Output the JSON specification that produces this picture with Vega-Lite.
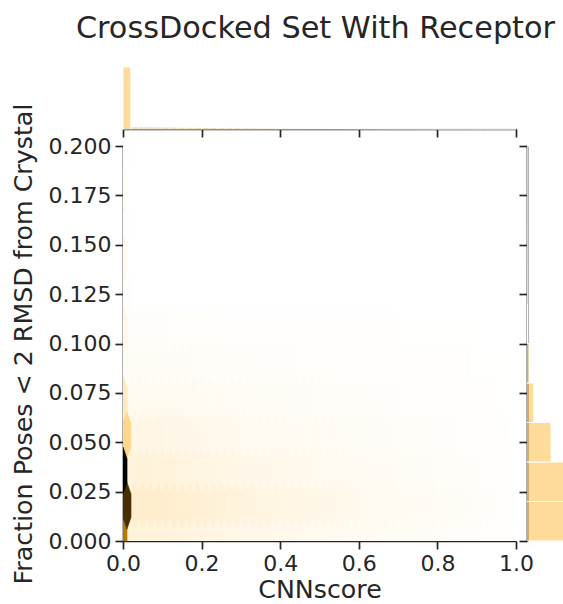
{
  "$schema": "https://vega.github.io/schema/vega-lite/v6.json",
  "padding": {"left": 11, "top": 13, "right": 0, "bottom": 0},
  "title": {"text": "CrossDocked Set With Receptor", "fontSize": 30.3, "font": "DejaVu Sans", "fontWeight": "normal", "color": "#262626", "anchor": "end", "dx": -8, "offset": 6},
  "datasets": {
    "hex": [
      {"x":0,"y":0,"n":640},{"x":0.02,"y":0,"n":67},{"x":0.04,"y":0,"n":70},{"x":0.06,"y":0,"n":70},{"x":0.08,"y":0,"n":69},{"x":0.1,"y":0,"n":67},{"x":0.12,"y":0,"n":65},{"x":0.14,"y":0,"n":63},{"x":0.16,"y":0,"n":61},{"x":0.18,"y":0,"n":59},{"x":0.2,"y":0,"n":57},{"x":0.22,"y":0,"n":55},{"x":0.24,"y":0,"n":53},{"x":0.26,"y":0,"n":50},{"x":0.28,"y":0,"n":48},{"x":0.3,"y":0,"n":46},{"x":0.32,"y":0,"n":44},{"x":0.34,"y":0,"n":42},{"x":0.36,"y":0,"n":41},{"x":0.38,"y":0,"n":39},{"x":0.4,"y":0,"n":38},{"x":0.42,"y":0,"n":36},{"x":0.44,"y":0,"n":35},{"x":0.46,"y":0,"n":34},{"x":0.48,"y":0,"n":32},{"x":0.5,"y":0,"n":31},{"x":0.52,"y":0,"n":29},{"x":0.54,"y":0,"n":28},{"x":0.56,"y":0,"n":27},{"x":0.58,"y":0,"n":25},{"x":0.6,"y":0,"n":24},{"x":0.62,"y":0,"n":23},{"x":0.64,"y":0,"n":22},{"x":0.66,"y":0,"n":21},{"x":0.68,"y":0,"n":20},{"x":0.7,"y":0,"n":19},{"x":0.72,"y":0,"n":18},{"x":0.74,"y":0,"n":17},{"x":0.76,"y":0,"n":16},{"x":0.78,"y":0,"n":15},{"x":0.8,"y":0,"n":14},{"x":0.82,"y":0,"n":13},{"x":0.84,"y":0,"n":12},{"x":0.86,"y":0,"n":11},{"x":0.88,"y":0,"n":10},{"x":0.9,"y":0,"n":9},{"x":0.92,"y":0,"n":8},{"x":0.94,"y":0,"n":6},{"x":0.96,"y":0,"n":5},{"x":0.98,"y":0,"n":3},{"x":1,"y":0,"n":1},
      {"x":0.01,"y":0.0179,"n":860},{"x":0.03,"y":0.0179,"n":98},{"x":0.05,"y":0.0179,"n":100},{"x":0.07,"y":0.0179,"n":99},{"x":0.09,"y":0.0179,"n":97},{"x":0.11,"y":0.0179,"n":95},{"x":0.13,"y":0.0179,"n":92},{"x":0.15,"y":0.0179,"n":89},{"x":0.17,"y":0.0179,"n":86},{"x":0.19,"y":0.0179,"n":83},{"x":0.21,"y":0.0179,"n":80},{"x":0.23,"y":0.0179,"n":77},{"x":0.25,"y":0.0179,"n":74},{"x":0.27,"y":0.0179,"n":71},{"x":0.29,"y":0.0179,"n":68},{"x":0.31,"y":0.0179,"n":65},{"x":0.33,"y":0.0179,"n":62},{"x":0.35,"y":0.0179,"n":59},{"x":0.37,"y":0.0179,"n":57},{"x":0.39,"y":0.0179,"n":55},{"x":0.41,"y":0.0179,"n":53},{"x":0.43,"y":0.0179,"n":51},{"x":0.45,"y":0.0179,"n":49},{"x":0.47,"y":0.0179,"n":47},{"x":0.49,"y":0.0179,"n":45},{"x":0.51,"y":0.0179,"n":43},{"x":0.53,"y":0.0179,"n":41},{"x":0.55,"y":0.0179,"n":39},{"x":0.57,"y":0.0179,"n":37},{"x":0.59,"y":0.0179,"n":35},{"x":0.61,"y":0.0179,"n":34},{"x":0.63,"y":0.0179,"n":32},{"x":0.65,"y":0.0179,"n":31},{"x":0.67,"y":0.0179,"n":29},{"x":0.69,"y":0.0179,"n":28},{"x":0.71,"y":0.0179,"n":26},{"x":0.73,"y":0.0179,"n":25},{"x":0.75,"y":0.0179,"n":23},{"x":0.77,"y":0.0179,"n":22},{"x":0.79,"y":0.0179,"n":21},{"x":0.81,"y":0.0179,"n":20},{"x":0.83,"y":0.0179,"n":18},{"x":0.85,"y":0.0179,"n":17},{"x":0.87,"y":0.0179,"n":15},{"x":0.89,"y":0.0179,"n":14},{"x":0.91,"y":0.0179,"n":12},{"x":0.93,"y":0.0179,"n":10},{"x":0.95,"y":0.0179,"n":8},{"x":0.97,"y":0.0179,"n":6},{"x":0.99,"y":0.0179,"n":3},
      {"x":0,"y":0.0357,"n":1000},{"x":0.02,"y":0.0357,"n":69},{"x":0.04,"y":0.0357,"n":72},{"x":0.06,"y":0.0357,"n":72},{"x":0.08,"y":0.0357,"n":71},{"x":0.1,"y":0.0357,"n":69},{"x":0.12,"y":0.0357,"n":67},{"x":0.14,"y":0.0357,"n":65},{"x":0.16,"y":0.0357,"n":63},{"x":0.18,"y":0.0357,"n":60},{"x":0.2,"y":0.0357,"n":58},{"x":0.22,"y":0.0357,"n":56},{"x":0.24,"y":0.0357,"n":54},{"x":0.26,"y":0.0357,"n":52},{"x":0.28,"y":0.0357,"n":50},{"x":0.3,"y":0.0357,"n":48},{"x":0.32,"y":0.0357,"n":45},{"x":0.34,"y":0.0357,"n":43},{"x":0.36,"y":0.0357,"n":42},{"x":0.38,"y":0.0357,"n":40},{"x":0.4,"y":0.0357,"n":39},{"x":0.42,"y":0.0357,"n":37},{"x":0.44,"y":0.0357,"n":36},{"x":0.46,"y":0.0357,"n":35},{"x":0.48,"y":0.0357,"n":33},{"x":0.5,"y":0.0357,"n":32},{"x":0.52,"y":0.0357,"n":30},{"x":0.54,"y":0.0357,"n":29},{"x":0.56,"y":0.0357,"n":27},{"x":0.58,"y":0.0357,"n":26},{"x":0.6,"y":0.0357,"n":25},{"x":0.62,"y":0.0357,"n":24},{"x":0.64,"y":0.0357,"n":23},{"x":0.66,"y":0.0357,"n":22},{"x":0.68,"y":0.0357,"n":21},{"x":0.7,"y":0.0357,"n":19},{"x":0.72,"y":0.0357,"n":18},{"x":0.74,"y":0.0357,"n":17},{"x":0.76,"y":0.0357,"n":16},{"x":0.78,"y":0.0357,"n":15},{"x":0.8,"y":0.0357,"n":14},{"x":0.82,"y":0.0357,"n":14},{"x":0.84,"y":0.0357,"n":13},{"x":0.86,"y":0.0357,"n":12},{"x":0.88,"y":0.0357,"n":10},{"x":0.9,"y":0.0357,"n":9},{"x":0.92,"y":0.0357,"n":8},{"x":0.94,"y":0.0357,"n":6},{"x":0.96,"y":0.0357,"n":5},{"x":0.98,"y":0.0357,"n":3},{"x":1,"y":0.0357,"n":1},
      {"x":0.01,"y":0.0536,"n":230},{"x":0.03,"y":0.0536,"n":49},{"x":0.05,"y":0.0536,"n":50},{"x":0.07,"y":0.0536,"n":50},{"x":0.09,"y":0.0536,"n":49},{"x":0.11,"y":0.0536,"n":47},{"x":0.13,"y":0.0536,"n":46},{"x":0.15,"y":0.0536,"n":44},{"x":0.17,"y":0.0536,"n":43},{"x":0.19,"y":0.0536,"n":41},{"x":0.21,"y":0.0536,"n":40},{"x":0.23,"y":0.0536,"n":38},{"x":0.25,"y":0.0536,"n":37},{"x":0.27,"y":0.0536,"n":35},{"x":0.29,"y":0.0536,"n":34},{"x":0.31,"y":0.0536,"n":32},{"x":0.33,"y":0.0536,"n":31},{"x":0.35,"y":0.0536,"n":30},{"x":0.37,"y":0.0536,"n":29},{"x":0.39,"y":0.0536,"n":28},{"x":0.41,"y":0.0536,"n":27},{"x":0.43,"y":0.0536,"n":26},{"x":0.45,"y":0.0536,"n":25},{"x":0.47,"y":0.0536,"n":24},{"x":0.49,"y":0.0536,"n":23},{"x":0.51,"y":0.0536,"n":22},{"x":0.53,"y":0.0536,"n":21},{"x":0.55,"y":0.0536,"n":20},{"x":0.57,"y":0.0536,"n":19},{"x":0.59,"y":0.0536,"n":18},{"x":0.61,"y":0.0536,"n":17},{"x":0.63,"y":0.0536,"n":16},{"x":0.65,"y":0.0536,"n":15},{"x":0.67,"y":0.0536,"n":15},{"x":0.69,"y":0.0536,"n":14},{"x":0.71,"y":0.0536,"n":13},{"x":0.73,"y":0.0536,"n":12},{"x":0.75,"y":0.0536,"n":12},{"x":0.77,"y":0.0536,"n":11},{"x":0.79,"y":0.0536,"n":10},{"x":0.81,"y":0.0536,"n":10},{"x":0.83,"y":0.0536,"n":9},{"x":0.85,"y":0.0536,"n":8},{"x":0.87,"y":0.0536,"n":8},{"x":0.89,"y":0.0536,"n":7},{"x":0.91,"y":0.0536,"n":6},{"x":0.93,"y":0.0536,"n":5},{"x":0.95,"y":0.0536,"n":4},{"x":0.97,"y":0.0536,"n":3},{"x":0.99,"y":0.0536,"n":1},
      {"x":0,"y":0.0714,"n":120},{"x":0.02,"y":0.0714,"n":30},{"x":0.04,"y":0.0714,"n":32},{"x":0.06,"y":0.0714,"n":32},{"x":0.08,"y":0.0714,"n":31},{"x":0.1,"y":0.0714,"n":31},{"x":0.12,"y":0.0714,"n":30},{"x":0.14,"y":0.0714,"n":29},{"x":0.16,"y":0.0714,"n":28},{"x":0.18,"y":0.0714,"n":27},{"x":0.2,"y":0.0714,"n":26},{"x":0.22,"y":0.0714,"n":25},{"x":0.24,"y":0.0714,"n":24},{"x":0.26,"y":0.0714,"n":23},{"x":0.28,"y":0.0714,"n":22},{"x":0.3,"y":0.0714,"n":21},{"x":0.32,"y":0.0714,"n":20},{"x":0.34,"y":0.0714,"n":19},{"x":0.36,"y":0.0714,"n":19},{"x":0.38,"y":0.0714,"n":18},{"x":0.4,"y":0.0714,"n":17},{"x":0.42,"y":0.0714,"n":17},{"x":0.44,"y":0.0714,"n":16},{"x":0.46,"y":0.0714,"n":15},{"x":0.48,"y":0.0714,"n":15},{"x":0.5,"y":0.0714,"n":14},{"x":0.52,"y":0.0714,"n":13},{"x":0.54,"y":0.0714,"n":13},{"x":0.56,"y":0.0714,"n":12},{"x":0.58,"y":0.0714,"n":12},{"x":0.6,"y":0.0714,"n":11},{"x":0.62,"y":0.0714,"n":11},{"x":0.64,"y":0.0714,"n":10},{"x":0.66,"y":0.0714,"n":10},{"x":0.68,"y":0.0714,"n":9},{"x":0.7,"y":0.0714,"n":9},{"x":0.72,"y":0.0714,"n":8},{"x":0.74,"y":0.0714,"n":8},{"x":0.76,"y":0.0714,"n":7},{"x":0.78,"y":0.0714,"n":7},{"x":0.8,"y":0.0714,"n":6},{"x":0.82,"y":0.0714,"n":6},{"x":0.84,"y":0.0714,"n":6},{"x":0.86,"y":0.0714,"n":5},{"x":0.88,"y":0.0714,"n":5},{"x":0.9,"y":0.0714,"n":4},{"x":0.92,"y":0.0714,"n":4},{"x":0.94,"y":0.0714,"n":3},{"x":0.96,"y":0.0714,"n":2},{"x":0.98,"y":0.0714,"n":1},
      {"x":0.01,"y":0.0893,"n":18},{"x":0.03,"y":0.0893,"n":17},{"x":0.05,"y":0.0893,"n":17},{"x":0.07,"y":0.0893,"n":17},{"x":0.09,"y":0.0893,"n":16},{"x":0.11,"y":0.0893,"n":16},{"x":0.13,"y":0.0893,"n":16},{"x":0.15,"y":0.0893,"n":15},{"x":0.17,"y":0.0893,"n":15},{"x":0.19,"y":0.0893,"n":14},{"x":0.21,"y":0.0893,"n":14},{"x":0.23,"y":0.0893,"n":13},{"x":0.25,"y":0.0893,"n":12},{"x":0.27,"y":0.0893,"n":12},{"x":0.29,"y":0.0893,"n":11},{"x":0.31,"y":0.0893,"n":11},{"x":0.33,"y":0.0893,"n":10},{"x":0.35,"y":0.0893,"n":10},{"x":0.37,"y":0.0893,"n":10},{"x":0.39,"y":0.0893,"n":9},{"x":0.41,"y":0.0893,"n":9},{"x":0.43,"y":0.0893,"n":9},{"x":0.45,"y":0.0893,"n":8},{"x":0.47,"y":0.0893,"n":8},{"x":0.49,"y":0.0893,"n":8},{"x":0.51,"y":0.0893,"n":7},{"x":0.53,"y":0.0893,"n":7},{"x":0.55,"y":0.0893,"n":7},{"x":0.57,"y":0.0893,"n":6},{"x":0.59,"y":0.0893,"n":6},{"x":0.61,"y":0.0893,"n":6},{"x":0.63,"y":0.0893,"n":5},{"x":0.65,"y":0.0893,"n":5},{"x":0.67,"y":0.0893,"n":5},{"x":0.69,"y":0.0893,"n":5},{"x":0.71,"y":0.0893,"n":4},{"x":0.73,"y":0.0893,"n":4},{"x":0.75,"y":0.0893,"n":4},{"x":0.77,"y":0.0893,"n":4},{"x":0.79,"y":0.0893,"n":3},{"x":0.81,"y":0.0893,"n":3},{"x":0.83,"y":0.0893,"n":3},{"x":0.85,"y":0.0893,"n":3},{"x":0.87,"y":0.0893,"n":3},{"x":0.89,"y":0.0893,"n":2},{"x":0.91,"y":0.0893,"n":2},{"x":0.93,"y":0.0893,"n":2},{"x":0.95,"y":0.0893,"n":1},{"x":0.97,"y":0.0893,"n":1},
      {"x":0,"y":0.1071,"n":45},{"x":0.02,"y":0.1071,"n":9},{"x":0.04,"y":0.1071,"n":9},{"x":0.06,"y":0.1071,"n":9},{"x":0.08,"y":0.1071,"n":9},{"x":0.1,"y":0.1071,"n":9},{"x":0.12,"y":0.1071,"n":8},{"x":0.14,"y":0.1071,"n":8},{"x":0.16,"y":0.1071,"n":8},{"x":0.18,"y":0.1071,"n":8},{"x":0.2,"y":0.1071,"n":7},{"x":0.22,"y":0.1071,"n":7},{"x":0.24,"y":0.1071,"n":7},{"x":0.26,"y":0.1071,"n":6},{"x":0.28,"y":0.1071,"n":6},{"x":0.3,"y":0.1071,"n":6},{"x":0.32,"y":0.1071,"n":6},{"x":0.34,"y":0.1071,"n":5},{"x":0.36,"y":0.1071,"n":5},{"x":0.38,"y":0.1071,"n":5},{"x":0.4,"y":0.1071,"n":5},{"x":0.42,"y":0.1071,"n":5},{"x":0.44,"y":0.1071,"n":4},{"x":0.46,"y":0.1071,"n":4},{"x":0.48,"y":0.1071,"n":4},{"x":0.5,"y":0.1071,"n":4},{"x":0.52,"y":0.1071,"n":4},{"x":0.54,"y":0.1071,"n":4},{"x":0.56,"y":0.1071,"n":3},{"x":0.58,"y":0.1071,"n":3},{"x":0.6,"y":0.1071,"n":3},{"x":0.62,"y":0.1071,"n":3},{"x":0.64,"y":0.1071,"n":3},{"x":0.66,"y":0.1071,"n":3},{"x":0.68,"y":0.1071,"n":3},{"x":0.7,"y":0.1071,"n":2},{"x":0.72,"y":0.1071,"n":2},{"x":0.74,"y":0.1071,"n":2},{"x":0.76,"y":0.1071,"n":2},{"x":0.78,"y":0.1071,"n":2},{"x":0.8,"y":0.1071,"n":2},{"x":0.82,"y":0.1071,"n":2},{"x":0.84,"y":0.1071,"n":2},{"x":0.86,"y":0.1071,"n":1},{"x":0.88,"y":0.1071,"n":1},{"x":0.9,"y":0.1071,"n":1},
      {"x":0.01,"y":0.125,"n":10},{"x":0,"y":0.1429,"n":30},{"x":0.01,"y":0.1607,"n":6},{"x":0,"y":0.1786,"n":20},{"x":0.01,"y":0.1964,"n":4},{"x":0,"y":0.2143,"n":10}
    ],
    "top": [
      {"b0":0,"b1":0.02,"n":1000},{"b0":0.02,"b1":0.04,"n":37},{"b0":0.04,"b1":0.06,"n":37},{"b0":0.06,"b1":0.08,"n":36},{"b0":0.08,"b1":0.1,"n":35},{"b0":0.1,"b1":0.12,"n":33},{"b0":0.12,"b1":0.14,"n":31},{"b0":0.14,"b1":0.16,"n":29},{"b0":0.16,"b1":0.18,"n":27},{"b0":0.18,"b1":0.2,"n":26},{"b0":0.2,"b1":0.22,"n":24},{"b0":0.22,"b1":0.24,"n":23},{"b0":0.24,"b1":0.26,"n":22},{"b0":0.26,"b1":0.28,"n":20},{"b0":0.28,"b1":0.3,"n":19},{"b0":0.3,"b1":0.32,"n":18},{"b0":0.32,"b1":0.34,"n":17},{"b0":0.34,"b1":0.36,"n":16},{"b0":0.36,"b1":0.38,"n":15},{"b0":0.38,"b1":0.4,"n":14},{"b0":0.4,"b1":0.42,"n":13},{"b0":0.42,"b1":0.44,"n":12},{"b0":0.44,"b1":0.46,"n":11},{"b0":0.46,"b1":0.48,"n":10},{"b0":0.48,"b1":0.5,"n":10},{"b0":0.5,"b1":0.52,"n":9},{"b0":0.52,"b1":0.54,"n":8},{"b0":0.54,"b1":0.56,"n":8},{"b0":0.56,"b1":0.58,"n":7},{"b0":0.58,"b1":0.6,"n":7},{"b0":0.6,"b1":0.62,"n":6},{"b0":0.62,"b1":0.64,"n":6},{"b0":0.64,"b1":0.66,"n":5},{"b0":0.66,"b1":0.68,"n":5},{"b0":0.68,"b1":0.7,"n":4},{"b0":0.7,"b1":0.72,"n":4},{"b0":0.72,"b1":0.74,"n":4},{"b0":0.74,"b1":0.76,"n":3},{"b0":0.76,"b1":0.78,"n":3},{"b0":0.78,"b1":0.8,"n":3},{"b0":0.8,"b1":0.82,"n":2},{"b0":0.82,"b1":0.84,"n":2},{"b0":0.84,"b1":0.86,"n":2},{"b0":0.86,"b1":0.88,"n":2},{"b0":0.88,"b1":0.9,"n":1},{"b0":0.9,"b1":0.92,"n":1},{"b0":0.92,"b1":0.94,"n":1},{"b0":0.94,"b1":0.96,"n":1},{"b0":0.96,"b1":0.98,"n":1},{"b0":0.98,"b1":1,"n":1}
    ],
    "side": [
      {"b0":0,"b1":0.02,"n":200},{"b0":0.02,"b1":0.04,"n":170},{"b0":0.04,"b1":0.06,"n":67},{"b0":0.06,"b1":0.08,"n":19},{"b0":0.08,"b1":0.1,"n":5.6},{"b0":0.1,"b1":0.12,"n":1.4},{"b0":0.12,"b1":0.14,"n":0.5},{"b0":0.14,"b1":0.16,"n":0.3},{"b0":0.16,"b1":0.18,"n":0.2},{"b0":0.18,"b1":0.2,"n":0.2}
    ]
  },
  "columns": 2,
  "bounds": "flush",
  "spacing": {"row": 17, "column": 11},
  "concat": [
    {
      "width": 393,
      "height": 79,
      "data": {"name": "top"},
      "mark": {"type": "rect", "fill": "#ffa500", "fillOpacity": 0.4, "stroke": "#ffffff", "strokeWidth": 1},
      "encoding": {
        "x": {"field": "b0", "type": "quantitative", "scale": {"domain": [0, 1], "nice": false}, "axis": {"values": [0, 0.2, 0.4, 0.6, 0.8, 1], "labels": false, "title": null}},
        "x2": {"field": "b1"},
        "y": {"field": "n", "type": "quantitative", "scale": {"domain": [0, 1274], "nice": false}, "axis": null}
      }
    },
    {
      "width": 36,
      "height": 79,
      "data": {"values": [{"v": 0}]},
      "mark": {"type": "point", "opacity": 0},
      "encoding": {}
    },
    {
      "width": 393,
      "height": 395,
      "data": {"name": "hex"},
      "mark": {"type": "point", "shape": "M0,-1L0.172,-0.5L0.172,0.5L0,1L-0.172,0.5L-0.172,-0.5Z", "size": 2209, "filled": true, "opacity": 1, "strokeWidth": 0.6, "clip": true},
      "encoding": {
        "x": {"field": "x", "type": "quantitative", "scale": {"domain": [0, 1], "nice": false, "zero": false}, "axis": {"values": [0, 0.2, 0.4, 0.6, 0.8, 1], "format": ".1f", "title": "CNNscore", "labelFlush": false, "titlePadding": 3}},
        "y": {"field": "y", "type": "quantitative", "scale": {"domain": [0, 0.2], "nice": false, "zero": false}, "axis": {"values": [0, 0.025, 0.05, 0.075, 0.1, 0.125, 0.15, 0.175, 0.2], "format": ".3f", "title": "Fraction Poses < 2 RMSD from Crystal", "labelFlush": false, "labelOverlap": false, "titlePadding": 12}},
        "fill": {"field": "n", "type": "quantitative", "legend": null, "scale": {"domain": [0, 90.91, 181.82, 272.73, 363.64, 454.55, 545.45, 636.36, 727.27, 818.18, 909.09, 1000], "range": ["#ffffff", "#ffefd1", "#ffdea2", "#ffce74", "#ffbd46", "#ffad17", "#e89600", "#b97800", "#8b5a00", "#5d3c00", "#2e1e00", "#000000"], "interpolate": "rgb", "clamp": true}},
        "stroke": {"field": "n", "type": "quantitative", "legend": null, "scale": {"domain": [0, 90.91, 181.82, 272.73, 363.64, 454.55, 545.45, 636.36, 727.27, 818.18, 909.09, 1000], "range": ["#ffffff", "#ffefd1", "#ffdea2", "#ffce74", "#ffbd46", "#ffad17", "#e89600", "#b97800", "#8b5a00", "#5d3c00", "#2e1e00", "#000000"], "interpolate": "rgb", "clamp": true}},
        "order": {"field": "n", "type": "quantitative"}
      }
    },
    {
      "width": 36,
      "height": 395,
      "data": {"name": "side"},
      "mark": {"type": "rect", "fill": "#ffa500", "fillOpacity": 0.4, "stroke": "#ffffff", "strokeWidth": 1, "clip": true},
      "encoding": {
        "y": {"field": "b0", "type": "quantitative", "scale": {"domain": [0, 0.2], "nice": false}, "axis": {"values": [0, 0.025, 0.05, 0.075, 0.1, 0.125, 0.15, 0.175, 0.2], "labels": false, "title": null}},
        "y2": {"field": "b1"},
        "x": {"field": "n", "type": "quantitative", "scale": {"domain": [0, 100], "nice": false}, "axis": null}
      }
    }
  ],
  "config": {
    "font": "DejaVu Sans",
    "view": {"stroke": null},
    "axis": {"grid": false, "domainColor": "#262626", "domainWidth": 1.7, "tickColor": "#262626", "tickWidth": 1.7, "tickSize": 8, "labelFont": "DejaVu Sans", "labelFontSize": 22, "labelColor": "#262626", "labelPadding": 4, "titleFont": "DejaVu Sans", "titleFontSize": 25.3, "titleColor": "#262626", "titleFontWeight": "normal"}
  }
}
